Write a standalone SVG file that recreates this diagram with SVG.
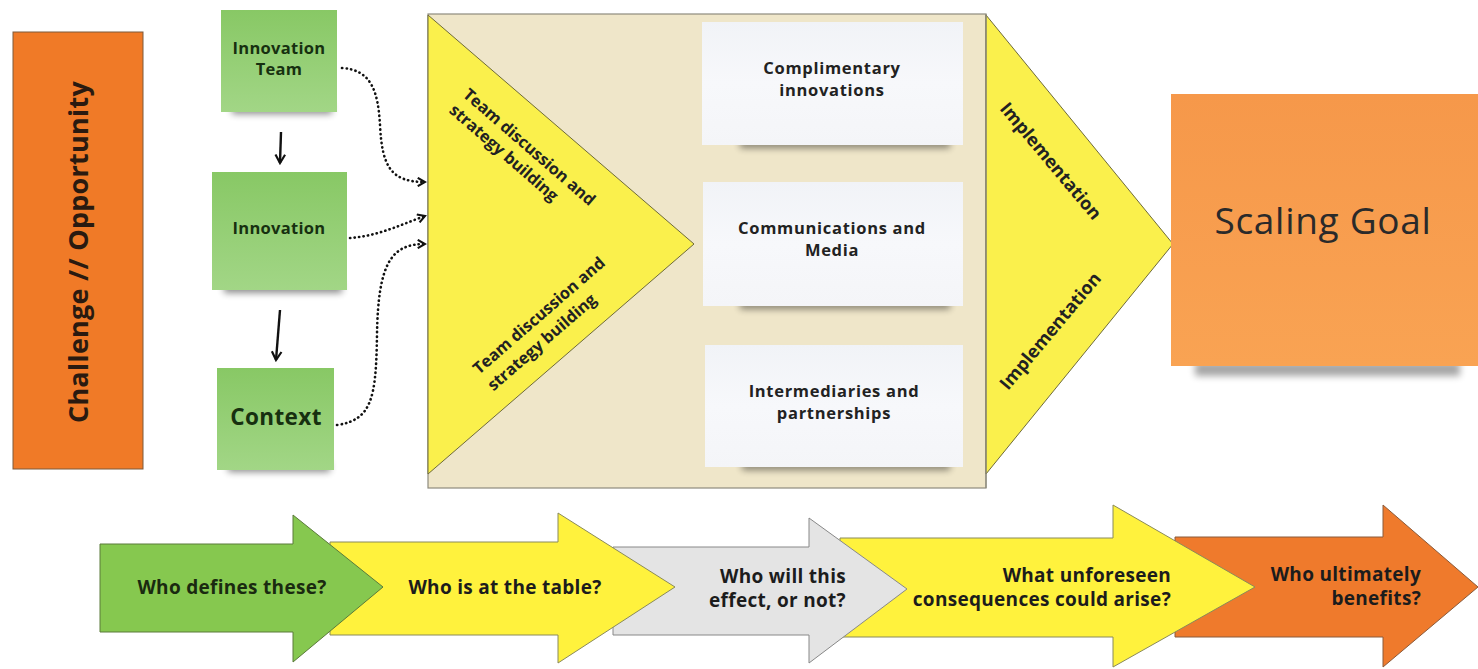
<svg xmlns="http://www.w3.org/2000/svg" width="1478" height="669" viewBox="0 0 1478 669">
<style>
  text { font-family: "Open Sans", "Liberation Sans", sans-serif; font-weight: 700; fill: #1f1f1f; }
  .note { font-size: 16.5px; letter-spacing: 0.3px; fill: #173010; text-anchor: middle; }
  .card { font-size: 16.5px; letter-spacing: 0.7px; fill: #222222; text-anchor: middle; }
  .tri { font-size: 16.3px; fill: #222222; }
  .impl { font-size: 18px; fill: #222222; }
  .q { font-size: 19px; letter-spacing: 0.3px; fill: #1c1c1c; }
  .dots { fill: none; stroke: #111111; stroke-width: 2.6; stroke-dasharray: 0.3 4.2; stroke-linecap: round; marker-end: url(#chev); }
  .solid { fill: none; stroke: #111111; stroke-width: 2.4; marker-end: url(#chev2); }
  .shadow { fill: #000000; opacity: 0.45; filter: url(#blur); }
</style>
<defs>
  <marker id="chev" viewBox="0 0 10 10" refX="8" refY="5" markerWidth="4" markerHeight="4" orient="auto" markerUnits="strokeWidth">
    <path d="M1,1 L8,5 L1,9" fill="none" stroke="#111111" stroke-width="2"/>
  </marker>
  <marker id="chev2" viewBox="0 0 10 10" refX="8" refY="5" markerWidth="5" markerHeight="5" orient="auto" markerUnits="strokeWidth">
    <path d="M1,1 L8,5 L1,9" fill="none" stroke="#111111" stroke-width="1.8"/>
  </marker>
  <filter id="blur" x="-20%" y="-100%" width="140%" height="300%">
    <feGaussianBlur stdDeviation="3.5"/>
  </filter>
  <linearGradient id="greenG" x1="0" y1="0" x2="0" y2="1">
    <stop offset="0" stop-color="#88C865"/>
    <stop offset="1" stop-color="#A2D686"/>
  </linearGradient>
  <linearGradient id="orangeG" x1="0" y1="0" x2="0" y2="1">
    <stop offset="0" stop-color="#F6984A"/>
    <stop offset="1" stop-color="#F9A353"/>
  </linearGradient>
  <linearGradient id="cardG" x1="0" y1="0" x2="0" y2="1">
    <stop offset="0" stop-color="#F1F3F7"/>
    <stop offset="0.5" stop-color="#F7F8FB"/>
    <stop offset="1" stop-color="#F4F5F8"/>
  </linearGradient>
</defs>

<rect x="0" y="0" width="1478" height="669" fill="#FFFFFF"/>

<g id="challenge">
  <rect x="13" y="32" width="130" height="437" fill="#F07A27" stroke="#7D5A3C" stroke-width="1"/>
  <text transform="translate(88,252) rotate(-90)" text-anchor="middle" style="font-size:27px;letter-spacing:0.25px;fill:#2a1a10">Challenge // Opportunity</text>
</g>

<g id="innovation-team">
  <rect class="shadow" x="232" y="104" width="100" height="10"/>
  <rect x="221" y="10" width="116" height="102" fill="url(#greenG)"/>
  <text class="note" x="279" y="54">Innovation</text>
  <text class="note" x="279" y="75">Team</text>
</g>

<g id="innovation">
  <rect class="shadow" x="224" y="282" width="118" height="11"/>
  <rect x="212" y="172" width="135" height="118" fill="url(#greenG)"/>
  <text class="note" x="279" y="234">Innovation</text>
</g>

<g id="context">
  <rect class="shadow" x="228" y="462" width="102" height="10"/>
  <rect x="217" y="368" width="117" height="102" fill="url(#greenG)"/>
  <text class="note" x="276" y="425" style="font-size:22.5px;letter-spacing:0.4px">Context</text>
</g>

<g id="strategy-box">
  <rect x="428" y="14" width="558" height="474" fill="#EFE6C9" stroke="#8E8B7E" stroke-width="1.2"/>
  <polygon points="428,15 694,244 428,474" fill="#FAF04C" stroke="#6E6A3A" stroke-width="1"/>
  <text class="tri" transform="translate(462,96) rotate(41)"><tspan x="0" y="0">Team discussion and</tspan><tspan x="0" y="21">strategy building</tspan></text>
  <text class="tri" transform="translate(479,375) rotate(-41)"><tspan x="0" y="0">Team discussion and</tspan><tspan x="0" y="22">strategy building</tspan></text>
</g>

<g id="card-complimentary">
  <rect class="shadow" x="740" y="140" width="210" height="8"/>
  <rect x="702" y="22" width="261" height="123" fill="url(#cardG)"/>
  <text class="card" x="832" y="74">Complimentary</text>
  <text class="card" x="832" y="96">innovations</text>
</g>

<g id="card-communications">
  <rect class="shadow" x="740" y="301" width="210" height="8"/>
  <rect x="703" y="182" width="260" height="124" fill="url(#cardG)"/>
  <text class="card" x="832" y="234">Communications and</text>
  <text class="card" x="832" y="256">Media</text>
</g>

<g id="card-intermediaries">
  <rect class="shadow" x="742" y="462" width="208" height="8"/>
  <rect x="705" y="345" width="258" height="122" fill="url(#cardG)"/>
  <text class="card" x="834" y="397">Intermediaries and</text>
  <text class="card" x="834" y="419">partnerships</text>
</g>

<g id="implementation">
  <polygon points="986,15 1173,244 986,474" fill="#FAF04C" stroke="#6E6A3A" stroke-width="1"/>
  <line x1="986" y1="14" x2="986" y2="488" stroke="#8E8B7E" stroke-width="1.2"/>
  <text class="impl" transform="translate(999,109) rotate(50)">Implementation</text>
  <text class="impl" transform="translate(1008,391) rotate(-50)">Implementation</text>
</g>

<g id="scaling-goal">
  <rect x="1195" y="362" width="265" height="14" fill="#000" opacity="0.35" filter="url(#blur)"/>
  <rect x="1171" y="94" width="307" height="272" fill="url(#orangeG)"/>
  <text x="1323" y="234" text-anchor="middle" style="font-size:37px;letter-spacing:0.7px;font-weight:400;fill:#2a2a2a">Scaling Goal</text>
</g>

<g id="connectors">
  <path class="solid" d="M281,132 L280,163"/>
  <path class="solid" d="M280,310 L276,360"/>
  <path class="dots" d="M342,68 C372,70 378,92 380,125 C382,168 392,182 425,182"/>
  <path class="dots" d="M350,238 C378,236 400,225 425,216"/>
  <path class="dots" d="M337,425 C372,420 376,398 377,335 C378,262 392,244 425,244"/>
</g>

<g id="arrow-benefits">
  <polygon points="1175,537 1383,537 1383,505 1478,587 1383,667 1383,637 1175,637" fill="#EF7A2C" stroke="#8A5A3A" stroke-width="1"/>
  <text class="q" x="1421" y="581" text-anchor="end">Who ultimately</text>
  <text class="q" x="1421" y="605" text-anchor="end">benefits?</text>
</g>

<g id="arrow-consequences">
  <polygon points="840,538 1113,538 1113,505 1255,587 1113,667 1113,637 840,637" fill="#FFF23D" stroke="#8A8A5A" stroke-width="1"/>
  <text class="q" x="1171" y="582" text-anchor="end">What unforeseen</text>
  <text class="q" x="1171" y="606" text-anchor="end">consequences could arise?</text>
</g>

<g id="arrow-effect">
  <polygon points="613,547 809,547 809,518 907,589 809,663 809,635 613,635" fill="#E4E4E4" stroke="#888888" stroke-width="1"/>
  <text class="q" x="846" y="583" text-anchor="end">Who will this</text>
  <text class="q" x="846" y="607" text-anchor="end">effect, or not?</text>
</g>

<g id="arrow-table">
  <polygon points="330,542 558,542 558,513 675,587 558,663 558,635 330,635" fill="#FFF23D" stroke="#8A8A5A" stroke-width="1"/>
  <text class="q" x="505" y="594" text-anchor="middle">Who is at the table?</text>
</g>

<g id="arrow-defines">
  <polygon points="100,544 293,544 293,515 383,587 293,662 293,632 100,632" fill="#86C84F" stroke="#5A7A3A" stroke-width="1"/>
  <text class="q" x="232" y="594" text-anchor="middle" style="fill:#1a2a10">Who defines these?</text>
</g>
</svg>
